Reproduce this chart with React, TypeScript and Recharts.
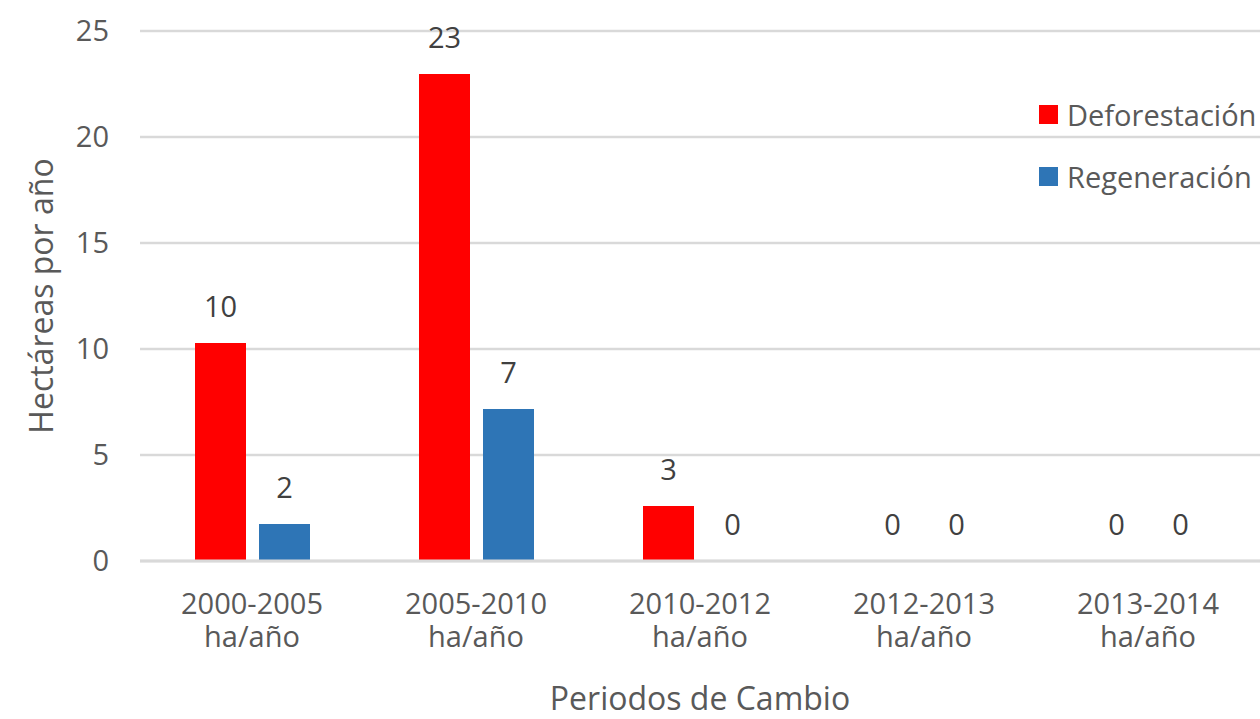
import React from 'react';
import { BarChart, Bar, XAxis, YAxis, CartesianGrid, Legend, LabelList } from 'recharts';

const periods = ['2000-2005', '2005-2010', '2010-2012', '2012-2013', '2013-2014'];
const unitLabel = 'ha/año';
const deforestacion = [10.28, 22.97, 2.59, 0, 0];
const regeneracion = [1.75, 7.17, 0, 0, 0];
const yTicks = [0, 5, 10, 15, 20, 25];

const data = periods.map((p, i) => ({
  period: p,
  Deforestación: deforestacion[i],
  Regeneración: regeneracion[i],
}));

const FONT = '"Open Sans", sans-serif';
const AXIS_COLOR = '#595959';
const RED = '#FF0000';
const BLUE = '#2E75B6';

const XTick = (props: any) => {
  const { x, y, payload } = props;
  return (
    <text x={x} y={y + 53} textAnchor="middle" fill={AXIS_COLOR} fontSize={29} fontFamily={FONT}>
      <tspan x={x} dy={0}>{payload.value}</tspan>
      <tspan x={x} dy={33}>{unitLabel}</tspan>
    </text>
  );
};

const LegendContent = () => {
  const items = [
    { name: 'Deforestación', color: RED },
    { name: 'Regeneración', color: BLUE },
  ];
  return (
    <div style={{ fontFamily: FONT, fontSize: 29, color: AXIS_COLOR }}>
      {items.map((it) => (
        <div key={it.name} style={{ display: 'flex', alignItems: 'center', height: 62 }}>
          <span style={{ display: 'inline-block', width: 19, height: 19, background: it.color, marginRight: 9 }} />
          <span>{it.name}</span>
        </div>
      ))}
    </div>
  );
};

const fmt = (v: any) => String(Math.round(Number(v)));

export default function App() {
  return (
    <div style={{ position: 'absolute', left: 0, top: 0, width: 1260, height: 719, background: '#fff' }}>
      <BarChart
        width={1260}
        height={719}
        data={data}
        margin={{ top: 31, right: 0, left: 0, bottom: 0 }}
        barSize={51}
        barGap={13}
      >
        <CartesianGrid vertical={false} stroke="#d9d9d9" strokeWidth={2.5} />
        <XAxis
          dataKey="period"
          height={158}
          tickLine={false}
          tickSize={0}
          tickMargin={0}
          axisLine={{ stroke: '#d9d9d9', strokeWidth: 3 }}
          tick={<XTick />}
          interval={0}
          label={{
            value: 'Periodos de Cambio',
            position: 'insideBottom',
            offset: 9,
            fill: AXIS_COLOR,
            fontSize: 32,
            fontFamily: FONT,
          }}
        />
        <YAxis
          width={140}
          domain={[0, 25]}
          ticks={yTicks}
          axisLine={false}
          tickLine={false}
          tickSize={0}
          tickMargin={31}
          tick={{ fill: AXIS_COLOR, fontSize: 29, fontFamily: FONT }}
          label={{
            value: 'Hectáreas por año',
            angle: -90,
            position: 'insideLeft',
            offset: 42,
            fill: AXIS_COLOR,
            fontSize: 32,
            fontFamily: FONT,
            style: { textAnchor: 'middle' },
          }}
        />
        <Legend
          layout="vertical"
          align="center"
          verticalAlign="middle"
          content={<LegendContent />}
          wrapperStyle={{ position: 'absolute', left: 1039, top: 83, width: 221 }}
        />
        <Bar dataKey="Deforestación" fill={RED} minPointSize={0.01} isAnimationActive={false}>
          <LabelList
            dataKey="Deforestación"
            position="top"
            offset={26}
            formatter={fmt}
            fill="#404040"
            fontSize={29}
            fontFamily={FONT}
          />
        </Bar>
        <Bar dataKey="Regeneración" fill={BLUE} minPointSize={0.01} isAnimationActive={false}>
          <LabelList
            dataKey="Regeneración"
            position="top"
            offset={26}
            formatter={fmt}
            fill="#404040"
            fontSize={29}
            fontFamily={FONT}
          />
        </Bar>
      </BarChart>
    </div>
  );
}
